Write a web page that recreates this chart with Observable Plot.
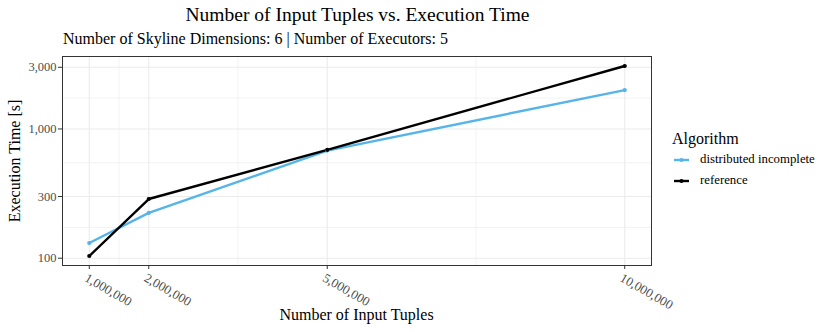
<!DOCTYPE html>
<html>
<head>
<meta charset="utf-8">
<script src="https://cdn.jsdelivr.net/npm/d3@7"></script>
<script src="https://cdn.jsdelivr.net/npm/@observablehq/plot@0.6"></script>
<style>
  html, body { margin: 0; padding: 0; background: #fff; }
  #wrap { position: relative; width: 830px; height: 332px; font-family: "Liberation Serif", "Times New Roman", serif; color: #000; }
  #wrap svg { position: absolute; left: 0; top: 0; font-family: "Liberation Serif", "Times New Roman", serif; }
  .t { position: absolute; white-space: nowrap; line-height: 1; font-family: "Liberation Serif", "Times New Roman", serif; }
</style>
</head>
<body>
<div id="wrap"></div>
<script>
// ---- data ----
const tuples = [1000000, 2000000, 5000000, 10000000];
const distributedIncomplete = [131, 224, 680, 2000];
const reference = [104, 287, 690, 3070];
const seriesNames = ["distributed incomplete", "reference"];
const seriesColors = ["#56B4E9", "#000000"];
const xTicks = [1000000, 2000000, 5000000, 10000000];
const yTicks = [100, 300, 1000, 3000];

const rows = [
  ...tuples.map((t, i) => ({tuples: t, time: distributedIncomplete[i], algorithm: seriesNames[0]})),
  ...tuples.map((t, i) => ({tuples: t, time: reference[i], algorithm: seriesNames[1]}))
];

// ggplot-like 5% expansion
const [x0, x1] = d3.extent(rows, d => d.tuples);
const xPad = (x1 - x0) * 0.05;
const [ly0, ly1] = d3.extent(rows, d => Math.log10(d.time));
const yPad = (ly1 - ly0) * 0.05;

// minor grid: midpoints between major breaks (in transformed space)
const xMinor = d3.pairs(xTicks).map(([a, b]) => (a + b) / 2);
const yMinor = d3.pairs(yTicks).map(([a, b]) => Math.sqrt(a * b));

const W = 830, H = 332;
const mL = 62, mR = 179, mT = 56, mB = 67;
const grid = "#ebebeb";
const FONT = "'Liberation Serif', 'Times New Roman', serif";
const fmt = d3.format(",");

const chart = Plot.plot({
  width: W, height: H,
  marginLeft: mL, marginRight: mR, marginTop: mT, marginBottom: mB,
  style: {fontFamily: FONT, background: "transparent", overflow: "visible"},
  x: {type: "linear", domain: [x0 - xPad, x1 + xPad]},
  y: {type: "log", domain: [10 ** (ly0 - yPad), 10 ** (ly1 + yPad)]},
  color: {domain: seriesNames, range: seriesColors},
  marks: [
    Plot.gridX(xMinor, {stroke: grid, strokeWidth: 0.6, strokeOpacity: 1}),
    Plot.gridY(yMinor, {stroke: grid, strokeWidth: 0.6, strokeOpacity: 1}),
    Plot.gridX(xTicks, {stroke: grid, strokeWidth: 1.1, strokeOpacity: 1}),
    Plot.gridY(yTicks, {stroke: grid, strokeWidth: 1.1, strokeOpacity: 1}),
    Plot.line(rows, {x: "tuples", y: "time", z: "algorithm", stroke: "algorithm", strokeWidth: 2.4, strokeLinejoin: "round"}),
    Plot.dot(rows, {x: "tuples", y: "time", fill: "algorithm", r: 2.1, stroke: null}),
    Plot.frame({stroke: "#333333", strokeWidth: 1}),
    Plot.axisX(xTicks, {tickSize: 4, text: null, stroke: "#333333", label: null}),
    Plot.text(xTicks, {x: d => d, frameAnchor: "bottom", dy: 7, dx: -1, rotate: 30,
      textAnchor: "start", lineAnchor: "top", text: d => fmt(d),
      fontSize: 13, fill: "#4d4d4d", fontFamily: FONT}),
    Plot.axisY(yTicks, {tickSize: 4, tickPadding: 2, tickFormat: fmt,
      fontSize: 12.5, fill: "#4d4d4d", stroke: "#333333", label: null, fontFamily: FONT})
  ]
});

const wrap = document.getElementById("wrap");
wrap.appendChild(chart);

function addText(txt, css) {
  const d = document.createElement("div");
  d.className = "t";
  d.textContent = txt;
  Object.assign(d.style, css);
  wrap.appendChild(d);
  return d;
}
// title & subtitle
const panelCx = mL + (W - mL - mR) / 2;
addText("Number of Input Tuples vs. Execution Time", {left: (panelCx + 1) + "px", top: "5px", fontSize: "19.5px", transform: "translateX(-50%)"});
addText("Number of Skyline Dimensions: 6 | Number of Executors: 5", {left: "63px", top: "31px", fontSize: "16px"});
// axis titles
addText("Number of Input Tuples", {left: panelCx + "px", top: "307px", fontSize: "16px", transform: "translateX(-50%)"});
addText("Execution Time [s]", {left: "15px", top: (mT + (H - mT - mB) / 2) + "px", fontSize: "16px", transform: "translate(-50%,-50%) rotate(-90deg)"});

// legend
addText("Algorithm", {left: "672px", top: "131px", fontSize: "16px"});
const legSvg = d3.create("svg").attr("width", 40).attr("height", 60)
  .style("left", "668px").style("top", "148px").style("position", "absolute");
seriesNames.forEach((n, i) => {
  const y = 12 + i * 21;
  legSvg.append("line").attr("x1", 6).attr("x2", 21).attr("y1", y).attr("y2", y)
    .attr("stroke", seriesColors[i]).attr("stroke-width", 2.4);
  legSvg.append("circle").attr("cx", 13.5).attr("cy", y).attr("r", 2.1).attr("fill", seriesColors[i]);
  addText(n, {left: "700px", top: (148 + y - 7) + "px", fontSize: "12.8px"});
});
wrap.appendChild(legSvg.node());
</script>
</body>
</html>
